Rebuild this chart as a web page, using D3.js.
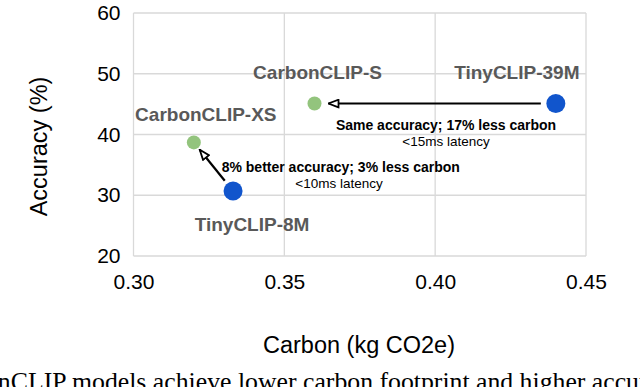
<!DOCTYPE html>
<html>
<head>
<meta charset="utf-8">
<script src="https://cdn.jsdelivr.net/npm/d3@7"></script>
<style>
  html, body { margin: 0; padding: 0; background: #fff; overflow: hidden; }
  #chart { width: 640px; height: 387px; }
  text { font-family: "Liberation Sans", Arial, sans-serif; }
</style>
</head>
<body>
<div id="chart"></div>
<script>
//Datos
const models = ['TinyCLIP-39M', 'CarbonCLIP-S', 'CarbonCLIP-XS', 'TinyCLIP-8M'];
const carbon = [0.440, 0.360, 0.320, 0.333];
const accuracy = [45.1, 45.1, 38.7, 30.7];
const family = ['TinyCLIP', 'CarbonCLIP', 'CarbonCLIP', 'TinyCLIP'];
const xTicks = [0.30, 0.35, 0.40, 0.45];
const yTicks = [20, 30, 40, 50, 60];
//Flechas: de -> a
const arrowFrom = ['TinyCLIP-39M', 'TinyCLIP-8M'];
const arrowTo = ['CarbonCLIP-S', 'CarbonCLIP-XS'];
const arrowTitle = ['Same accuracy; 17% less carbon', '8% better accuracy; 3% less carbon'];
const arrowSub = ['<15ms latency', '<10ms latency'];
const caption = 'CarbonCLIP models achieve lower carbon footprint and higher accuracy';

//Colores fijos
const COLOR_TINY = '#1155cc',
COLOR_CARBON = '#93c47d',
COLOR_GRID = '#d9d9d9',
COLOR_LABEL = '#595959';

let margin = {top: 13, right: 54, bottom: 131, left: 133.5},
    width = 640 - margin.left - margin.right,
    height = 387 - margin.top - margin.bottom;

let svg = d3.select('#chart')
    .append('svg')
        .attr('width', 640)
        .attr('height', 387);

let g = svg.append('g')
    .attr('transform', 'translate(' + margin.left + ',' + margin.top + ')');

let x = d3.scaleLinear().domain([0.30, 0.45]).range([0, width]);
let y = d3.scaleLinear().domain([20, 60]).range([height, 0]);

//Rejilla
g.append('g')
    .selectAll('line')
    .data(xTicks)
    .enter()
    .append('line')
    .attr('x1', d => x(d)).attr('x2', d => x(d))
    .attr('y1', 0).attr('y2', height)
    .attr('stroke', COLOR_GRID).attr('stroke-width', 1.3);

g.append('g')
    .selectAll('line')
    .data(yTicks)
    .enter()
    .append('line')
    .attr('x1', 0).attr('x2', width)
    .attr('y1', d => y(d)).attr('y2', d => y(d))
    .attr('stroke', COLOR_GRID).attr('stroke-width', 1.3);

//Ejes
let xAxis = function(sel) {
    sel.call(d3.axisBottom(x).tickValues(xTicks).tickFormat(d3.format('.2f')).tickSize(0).tickPadding(18));
    sel.call(function(g){ g.select('.domain').remove(); });
    sel.selectAll('text').attr('font-size', '21px').attr('fill', '#000')
        .style('font-family', '"Liberation Sans", Arial, sans-serif');
};
g.append('g').attr('transform', 'translate(0,' + height + ')').call(xAxis);

let yAxis = function(sel) {
    sel.call(d3.axisLeft(y).tickValues(yTicks).tickSize(0).tickPadding(13));
    sel.call(function(g){ g.select('.domain').remove(); });
    sel.selectAll('text').attr('font-size', '21px').attr('fill', '#000')
        .style('font-family', '"Liberation Sans", Arial, sans-serif');
};
g.append('g').call(yAxis);

//Títulos de ejes
svg.append('text')
    .attr('x', 359).attr('y', 353)
    .attr('text-anchor', 'middle')
    .attr('font-size', '23.5px')
    .text('Carbon (kg CO2e)');

svg.append('text')
    .attr('transform', 'translate(47,146.5) rotate(-90)')
    .attr('text-anchor', 'middle')
    .attr('font-size', '23.5px')
    .text('Accuracy (%)');

//Flechas
let defs = svg.append('defs');
defs.append('marker')
    .attr('id', 'head')
    .attr('viewBox', '0 0 12 10')
    .attr('refX', 11).attr('refY', 5)
    .attr('markerWidth', 12).attr('markerHeight', 10)
    .attr('markerUnits', 'userSpaceOnUse')
    .attr('orient', 'auto')
    .append('path')
    .attr('d', 'M1,1.2 L11,5 L1,8.8 Z')
    .attr('fill', '#fff').attr('stroke', '#000').attr('stroke-width', 1.8);

let idx = function(name) { return models.indexOf(name); };
let gapFrom = [15, 13.2], gapTo = [14, 9.4];

arrowFrom.forEach(function(f, i) {
    let a = idx(f), b = idx(arrowTo[i]);
    let x1 = x(carbon[a]), y1 = y(accuracy[a]);
    let x2 = x(carbon[b]), y2 = y(accuracy[b]);
    let len = Math.hypot(x2 - x1, y2 - y1);
    let ux = (x2 - x1) / len, uy = (y2 - y1) / len;
    g.append('line')
        .attr('x1', x1 + ux * gapFrom[i]).attr('y1', y1 + uy * gapFrom[i])
        .attr('x2', x2 - ux * gapTo[i]).attr('y2', y2 - uy * gapTo[i])
        .attr('stroke', '#000').attr('stroke-width', 2.2)
        .attr('marker-end', 'url(#head)');
});

//Textos de las flechas
let annPos = [{x: 446 - margin.left, y: 129.5 - margin.top, anchor: 'middle', sx: 446 - margin.left},
              {x: 221.7 - margin.left, y: 171.7 - margin.top, anchor: 'start', sx: 339 - margin.left}];
arrowTitle.forEach(function(t, i) {
    g.append('text')
        .attr('x', annPos[i].x).attr('y', annPos[i].y)
        .attr('text-anchor', annPos[i].anchor)
        .attr('font-size', '14px').attr('font-weight', 'bold')
        .text(t);
    g.append('text')
        .attr('x', annPos[i].sx).attr('y', annPos[i].y + 16)
        .attr('text-anchor', 'middle')
        .attr('font-size', '13.5px')
        .text(arrowSub[i]);
});

//Puntos
g.append('g')
    .selectAll('circle')
    .data(models)
    .enter()
    .append('circle')
    .attr('cx', (d, i) => x(carbon[i]))
    .attr('cy', (d, i) => y(accuracy[i]))
    .attr('r', (d, i) => family[i] == 'TinyCLIP' ? 9.5 : 7)
    .attr('fill', (d, i) => family[i] == 'TinyCLIP' ? COLOR_TINY : COLOR_CARBON);

//Etiquetas de los modelos
let labelOffset = {
    'TinyCLIP-39M': [-39, -25],
    'CarbonCLIP-S': [3, -25],
    'CarbonCLIP-XS': [12, -21],
    'TinyCLIP-8M': [19, 40]
};
g.append('g')
    .selectAll('text')
    .data(models)
    .enter()
    .append('text')
    .attr('x', (d, i) => x(carbon[i]) + labelOffset[d][0])
    .attr('y', (d, i) => y(accuracy[i]) + labelOffset[d][1])
    .attr('text-anchor', 'middle')
    .attr('font-size', '19px').attr('font-weight', 'bold')
    .attr('fill', COLOR_LABEL)
    .text(d => d);

//Pie de figura (recortado en la imagen original)
//Se ajusta el tamaño para que 'models' empiece en x=72 y 'accu' en x=592
let cap = svg.append('text')
    .attr('x', 0).attr('y', 390)
    .attr('font-size', '24px')
    .style('font-family', '"Liberation Serif", "Times New Roman", serif')
    .text(caption);
let node = cap.node();
let iM = caption.indexOf('models'), iA = caption.lastIndexOf('accuracy');
let p1 = node.getStartPositionOfChar(iM).x, p2 = node.getStartPositionOfChar(iA).x;
let fs = 24 * (592 - 72) / (p2 - p1);
cap.attr('font-size', fs + 'px');
p1 = node.getStartPositionOfChar(iM).x;
cap.attr('x', 72 - p1);
</script>
</body>
</html>
